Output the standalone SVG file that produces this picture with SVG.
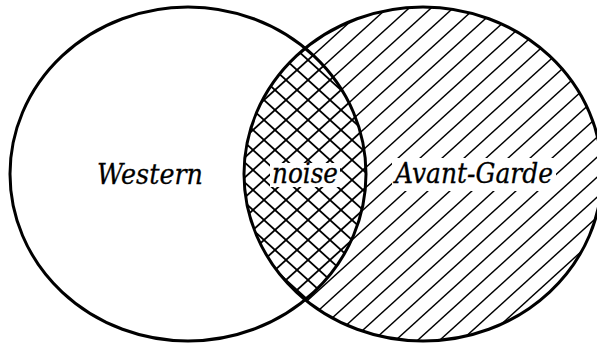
<svg xmlns="http://www.w3.org/2000/svg" width="597" height="345" viewBox="0 0 597 345">
  <style>
    .outline { fill: none; stroke: #000; stroke-width: 3; }
    .hatch { stroke: #000; stroke-width: 1.4; stroke-linecap: square; }
    .xhatch { stroke: #000; stroke-width: 1.8; stroke-linecap: square; }
    text { font-family: 'DejaVu Serif', 'Liberation Serif', serif; font-style: italic; font-size: 28px; fill: #000; stroke: #000; stroke-width: 0.3; text-anchor: middle; }
  </style>
  <defs>
    <!-- single diagonal hatching for the right set -->
    <pattern id="diag" patternUnits="userSpaceOnUse" width="22" height="20">
      <line class="hatch" x1="0" y1="20" x2="22" y2="0"/>
      <line class="hatch" x1="-2" y1="2" x2="2" y2="-2"/>
      <line class="hatch" x1="20" y1="22" x2="24" y2="18"/>
    </pattern>
    <!-- cross hatching for the overlap -->
    <pattern id="cross" patternUnits="userSpaceOnUse" width="22" height="20">
      <rect width="22" height="20" fill="#fff"/>
      <line class="xhatch" x1="0" y1="20" x2="22" y2="0"/>
      <line class="xhatch" x1="0" y1="0" x2="22" y2="20"/>
      <line class="xhatch" x1="-2" y1="2" x2="2" y2="-2"/>
      <line class="xhatch" x1="20" y1="22" x2="24" y2="18"/>
      <line class="xhatch" x1="-2" y1="18" x2="2" y2="22"/>
      <line class="xhatch" x1="20" y1="-2" x2="24" y2="2"/>
    </pattern>
    <clipPath id="leftClip">
      <ellipse cx="188" cy="174" rx="178" ry="167"/>
    </clipPath>
  </defs>

  <rect width="597" height="345" fill="#fff"/>

  <g id="avant-garde">
    <ellipse cx="423" cy="174" rx="179" ry="167" fill="url(#diag)"/>
  </g>

  <g id="overlap">
    <ellipse cx="423" cy="174" rx="179" ry="167" fill="url(#cross)" clip-path="url(#leftClip)"/>
  </g>

  <g id="western">
    <ellipse class="outline" cx="188" cy="174" rx="178" ry="167"/>
    <text x="150" y="184" textLength="106" lengthAdjust="spacingAndGlyphs">Western</text>
  </g>

  <g id="avant-garde-outline">
    <ellipse class="outline" cx="423" cy="174" rx="179" ry="167"/>
  </g>

  <g id="labels">
    <!-- white backing behind the labels that sit over hatching -->
    <rect x="270" y="163" width="70" height="24" fill="#fff"/>
    <rect x="392" y="158" width="164" height="33" fill="#fff"/>
    <text x="305" y="183" textLength="66" lengthAdjust="spacingAndGlyphs">noise</text>
    <text x="474" y="183" textLength="158" lengthAdjust="spacingAndGlyphs">Avant-Garde</text>
  </g>
</svg>
